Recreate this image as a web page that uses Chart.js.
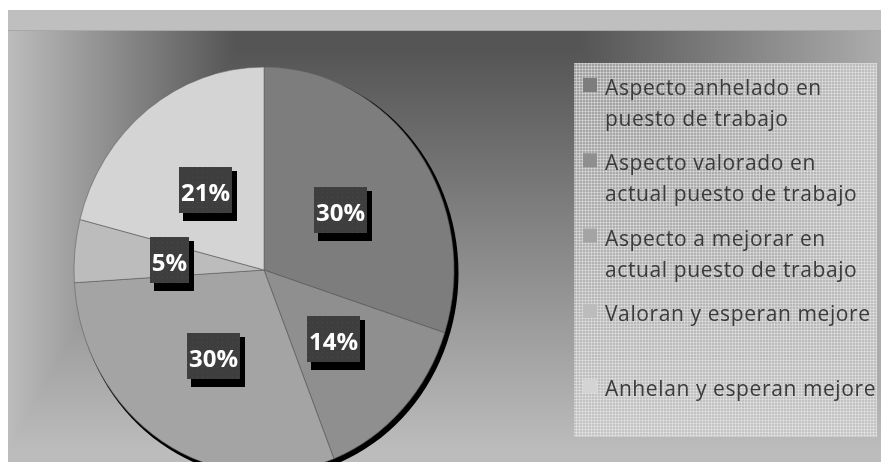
<!DOCTYPE html>
<html lang="es">
<head>
<meta charset="utf-8">
<title>Aspectos del puesto de trabajo</title>
<script src="https://cdn.jsdelivr.net/npm/chart.js@4.4.1/dist/chart.umd.min.js"></script>
<style>
  html, body { margin: 0; padding: 0; background: #fff; overflow: hidden; }
  #wrap { position: relative; width: 881px; height: 462px; overflow: hidden; }
  canvas { display: block; }
</style>
</head>
<body>
<div id="wrap"><canvas id="pieChart" width="881" height="480"></canvas></div>
<script>
//Categories (legend text, one array per item, one string per line)
const categories = [
  ['Aspecto anhelado en', 'puesto de trabajo'],
  ['Aspecto valorado en', 'actual puesto de trabajo'],
  ['Aspecto a mejorar en', 'actual puesto de trabajo'],
  ['Valoran y esperan mejore'],
  ['Anhelan y esperan mejore'],
];

//Percentages
const values = [30, 14, 30, 5, 21];
const valueLabels = ['30%', '14%', '30%', '5%', '21%'];

//Grey shades of the slices
const sliceColors = ['#7d7d7d', '#8f8f8f', '#a4a4a4', '#bcbcbc', '#d4d4d4'];

//Pie is a bit taller than wide in the original
const stretchY = 203 / 190;

//Background: top band + "rectangular" grey gradient (max of two linear ones)
const backgroundPlugin = {
  id: 'background',
  beforeDraw(chart) {
    const ctx = chart.ctx;
    ctx.save();
    ctx.fillStyle = '#bfbfbf';
    ctx.fillRect(8, 10, 873, 21);

    const v = ctx.createLinearGradient(0, 50, 0, 450);
    v.addColorStop(0, '#555555');
    v.addColorStop(1, '#bcbcbc');
    ctx.fillStyle = v;
    ctx.fillRect(8, 31, 873, 449);

    const h = ctx.createLinearGradient(8, 0, 881, 0);
    h.addColorStop(0, '#bcbcbc');
    h.addColorStop(228 / 873, '#555555');
    h.addColorStop(572 / 873, '#555555');
    h.addColorStop(1, '#acacac');
    ctx.globalCompositeOperation = 'lighten';
    ctx.fillStyle = h;
    ctx.fillRect(8, 31, 873, 449);
    ctx.globalCompositeOperation = 'source-over';

    ctx.fillStyle = '#a8a8a8';
    ctx.fillRect(8, 30, 873, 1);
    ctx.restore();
  },
};

//Stretch the pie vertically and put a black shadow behind it
const pieShapePlugin = {
  id: 'pieShape',
  beforeDatasetsDraw(chart) {
    const ctx = chart.ctx;
    const arc = chart.getDatasetMeta(0).data[0];
    ctx.save();
    ctx.translate(arc.x, arc.y);
    ctx.scale(1, stretchY);
    ctx.translate(-arc.x, -arc.y);
    ctx.fillStyle = '#000';
    ctx.beginPath();
    ctx.arc(arc.x + 3, arc.y + 3, arc.outerRadius + 1.5, 0, Math.PI * 2);
    ctx.fill();
  },
  afterDatasetsDraw(chart) {
    const ctx = chart.ctx;
    ctx.restore();

    //Dark label boxes with shadow
    const meta = chart.getDatasetMeta(0);
    ctx.save();
    ctx.font = 'bold 24px "Open Sans", sans-serif';
    ctx.textAlign = 'center';
    ctx.textBaseline = 'alphabetic';
    meta.data.forEach((arc, i) => {
      const p = arc.getCenterPoint();
      const px = p.x;
      const py = arc.y + (p.y - arc.y) * stretchY;
      const w = Math.round(ctx.measureText(valueLabels[i]).width + 4);
      const hgt = 46;
      const x = Math.round(px - w / 2);
      const y = Math.round(py - hgt / 2);
      ctx.fillStyle = '#000';
      ctx.fillRect(x + 4, y + 4, w + 1, hgt + 4);
      ctx.fillStyle = '#3e3e3e';
      ctx.fillRect(x, y, w, hgt);
      ctx.fillStyle = dotPattern(ctx);
      ctx.fillRect(x, y, w, hgt);
      ctx.fillStyle = '#fff';
      ctx.fillText(valueLabels[i], x + w / 2, y + hgt / 2 + 11);
    });
    ctx.restore();
  },
};

//Small dot texture on the label boxes
function dotPattern(ctx) {
  const c = document.createElement('canvas');
  c.width = 5;
  c.height = 5;
  const g = c.getContext('2d');
  g.fillStyle = 'rgba(255,255,255,0.06)';
  g.fillRect(2, 2, 1, 1);
  return ctx.createPattern(c, 'repeat');
}

//Grid texture of the legend box
function gridPattern(ctx) {
  const c = document.createElement('canvas');
  c.width = 3;
  c.height = 3;
  const g = c.getContext('2d');
  g.fillStyle = 'rgba(205,205,205,0.6)';
  g.fillRect(0, 0, 3, 3);
  g.fillStyle = 'rgba(245,245,245,0.4)';
  g.fillRect(0, 0, 3, 1);
  g.fillRect(0, 0, 1, 3);
  return ctx.createPattern(c, 'repeat');
}

//Custom legend on the right (two lines per item)
const legendPlugin = {
  id: 'sideLegend',
  afterDraw(chart) {
    const ctx = chart.ctx;
    ctx.save();
    ctx.fillStyle = gridPattern(ctx);
    ctx.fillRect(574, 63, 303, 374);

    ctx.font = '21px "Open Sans", sans-serif';
    ctx.letterSpacing = '0.6px';
    ctx.textBaseline = 'alphabetic';
    chart.data.labels.forEach((lines, i) => {
      const base = 95 + i * 75.3;
      ctx.fillStyle = chart.data.datasets[0].backgroundColor[i];
      ctx.fillRect(583, base - 17, 14, 14);
      ctx.fillStyle = '#3a3a3a';
      lines.forEach((line, j) => ctx.fillText(line, 605, base + j * 31));
    });
    ctx.restore();
  },
};

const pieChart = new Chart('pieChart', {
  type: 'pie',
  data: {
    labels: categories,
    datasets: [
      {
        data: values,
        backgroundColor: sliceColors,
        borderColor: 'rgba(95,95,95,0.55)',
        borderWidth: 1,
        clip: false,
      },
    ],
  },
  options: {
    responsive: false,
    animation: false,
    radius: 190,
    layout: {
      padding: { left: 74, right: 427, top: 80, bottom: 20 },
    },
    plugins: {
      legend: { display: false },
      tooltip: { enabled: false },
    },
  },
  plugins: [backgroundPlugin, pieShapePlugin, legendPlugin],
});
</script>
</body>
</html>
